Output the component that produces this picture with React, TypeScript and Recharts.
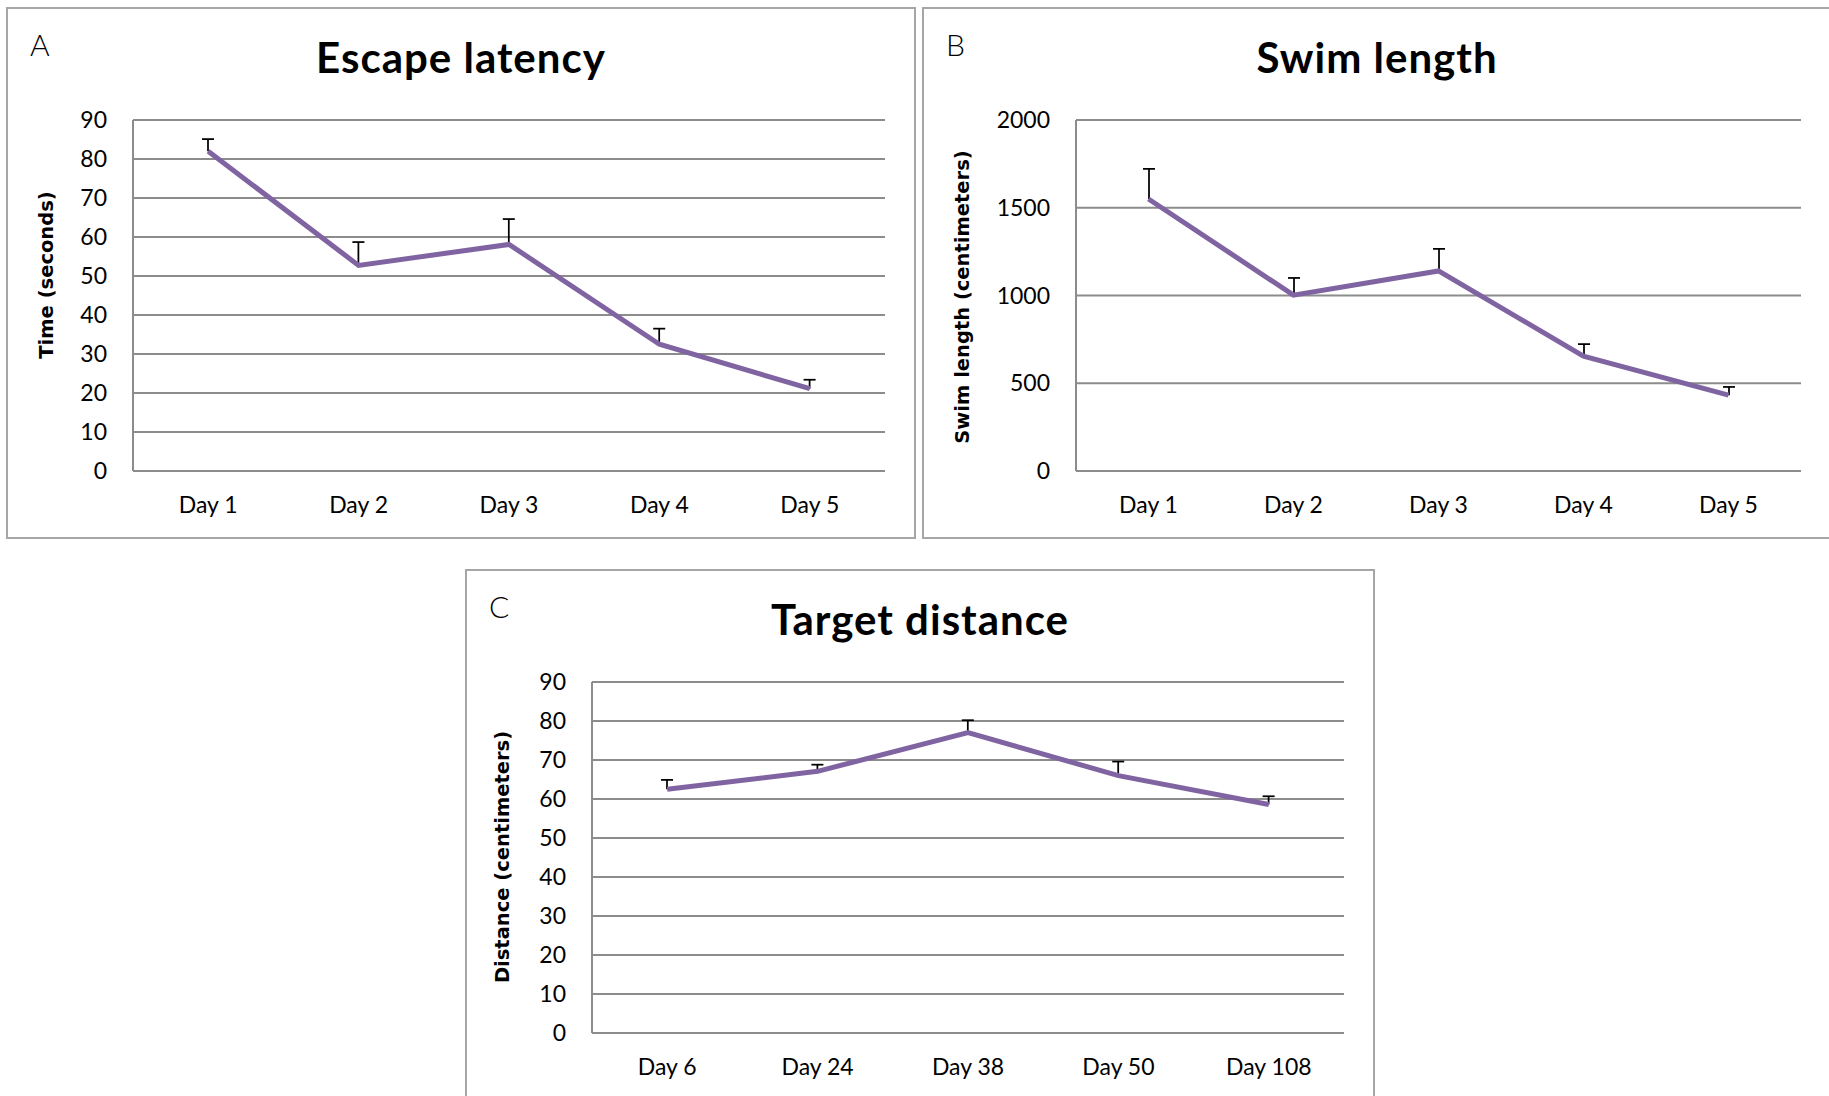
import React from 'react';
import { ComposedChart, Line, Bar, XAxis, YAxis, CartesianGrid } from 'recharts';

const trainingDays = ['Day 1', 'Day 2', 'Day 3', 'Day 4', 'Day 5'];
const probeDays = ['Day 6', 'Day 24', 'Day 38', 'Day 50', 'Day 108'];

const latency = [82, 52.7, 58.1, 32.5, 21.1];
const latencyTop = [85.1, 58.7, 64.6, 36.5, 23.4];

const swim = [1550, 1002, 1140, 654, 432];
const swimTop = [1721, 1100, 1266, 723, 479];

const distance = [62.5, 67.1, 77.0, 66.0, 58.6];
const distanceTop = [64.9, 68.8, 80.2, 69.6, 60.7];

const ticks90 = [0, 10, 20, 30, 40, 50, 60, 70, 80, 90];
const ticks2000 = [0, 500, 1000, 1500, 2000];

const PURPLE = '#8064A2';
const GRID = '#8c8c8c';
const FONT = 'Lato, "Open Sans", sans-serif';

const buildRows = (days, vals, tops) =>
  days.map((d, i) => ({ day: d, value: vals[i], err: [vals[i], tops[i]] }));

// upper-only error bar drawn from the range bar's geometry
const ErrorShape = (props) => {
  const { x, y, width, height } = props;
  if (x == null || y == null) return null;
  const cx = x + width / 2;
  return (
    <g>
      <line x1={cx} y1={y} x2={cx} y2={y + height} stroke="#000" strokeWidth={1.75} />
      <line x1={cx - 6} y1={y} x2={cx + 6} y2={y} stroke="#000" strokeWidth={1.75} />
    </g>
  );
};

const CHART_W = 906;
const CHART_H = 528;

const Panel = ({ left, top, letter, title, yLabel, yLabelX, yLabelY, rows, domain, ticks, marginLeft }) => (
  <div
    style={{
      position: 'absolute',
      left,
      top,
      width: 910,
      height: 532,
      border: '2px solid #a6a6a6',
      boxSizing: 'border-box',
      background: '#fff',
    }}
  >
    <div style={{ position: 'absolute', left: 0, top: 0 }}>
      <ComposedChart
        width={CHART_W}
        height={CHART_H}
        data={rows}
        margin={{ top: 111, right: 29, bottom: 26, left: marginLeft }}
      >
        <CartesianGrid vertical={false} stroke={GRID} strokeWidth={2} />
        <XAxis
          dataKey="day"
          height={40}
          axisLine={false}
          tickLine={false}
          tickSize={0}
          tickMargin={26}
          interval={0}
          tick={{ fontSize: 23, fill: '#000', fontFamily: FONT }}
        />
        <YAxis
          type="number"
          width={80}
          domain={domain}
          ticks={ticks}
          interval={0}
          allowDataOverflow
          axisLine={{ stroke: GRID, strokeWidth: 2 }}
          tickLine={false}
          tickSize={0}
          tickMargin={26}
          tick={{ fontSize: 23, fill: '#000', fontFamily: FONT }}
        />
        <Bar dataKey="err" barSize={12} shape={<ErrorShape />} isAnimationActive={false} />
        <Line
          type="linear"
          dataKey="value"
          stroke={PURPLE}
          strokeWidth={5}
          dot={false}
          activeDot={false}
          isAnimationActive={false}
        />
      </ComposedChart>
    </div>
    <svg
      width={CHART_W}
      height={CHART_H}
      style={{ position: 'absolute', left: 0, top: 0, pointerEvents: 'none' }}
    >
      <text x={22} y={47} fontFamily={FONT} fontWeight={300} fontSize={30} fill="#000">
        {letter}
      </text>
      <text
        x={453}
        y={64}
        textAnchor="middle"
        fontFamily={FONT}
        fontWeight={700}
        fontSize={42}
        letterSpacing={1}
        fill="#000"
      >
        {title}
      </text>
      <text
        x={yLabelX}
        y={yLabelY}
        textAnchor="middle"
        dominantBaseline="central"
        transform={`rotate(-90 ${yLabelX} ${yLabelY})`}
        fontFamily='"DejaVu Sans", Verdana, sans-serif'
        fontWeight={700}
        fontSize={19.5}
        fill="#000"
      >
        {yLabel}
      </text>
    </svg>
  </div>
);

export default function App() {
  return (
    <div
      style={{
        position: 'absolute',
        left: 0,
        top: 0,
        width: 1829,
        height: 1096,
        overflow: 'hidden',
        background: '#fff',
      }}
    >
      <Panel
        left={6}
        top={7}
        letter="A"
        title="Escape latency"
        yLabel="Time (seconds)"
        yLabelX={38}
        yLabelY={266}
        rows={buildRows(trainingDays, latency, latencyTop)}
        domain={[0, 90]}
        ticks={ticks90}
        marginLeft={45}
      />
      <Panel
        left={922}
        top={7}
        letter="B"
        title="Swim length"
        yLabel="Swim length (centimeters)"
        yLabelX={38}
        yLabelY={288}
        rows={buildRows(trainingDays, swim, swimTop)}
        domain={[0, 2000]}
        ticks={ticks2000}
        marginLeft={72}
      />
      <Panel
        left={465}
        top={569}
        letter="C"
        title="Target distance"
        yLabel="Distance (centimeters)"
        yLabelX={35}
        yLabelY={286}
        rows={buildRows(probeDays, distance, distanceTop)}
        domain={[0, 90]}
        ticks={ticks90}
        marginLeft={45}
      />
    </div>
  );
}
